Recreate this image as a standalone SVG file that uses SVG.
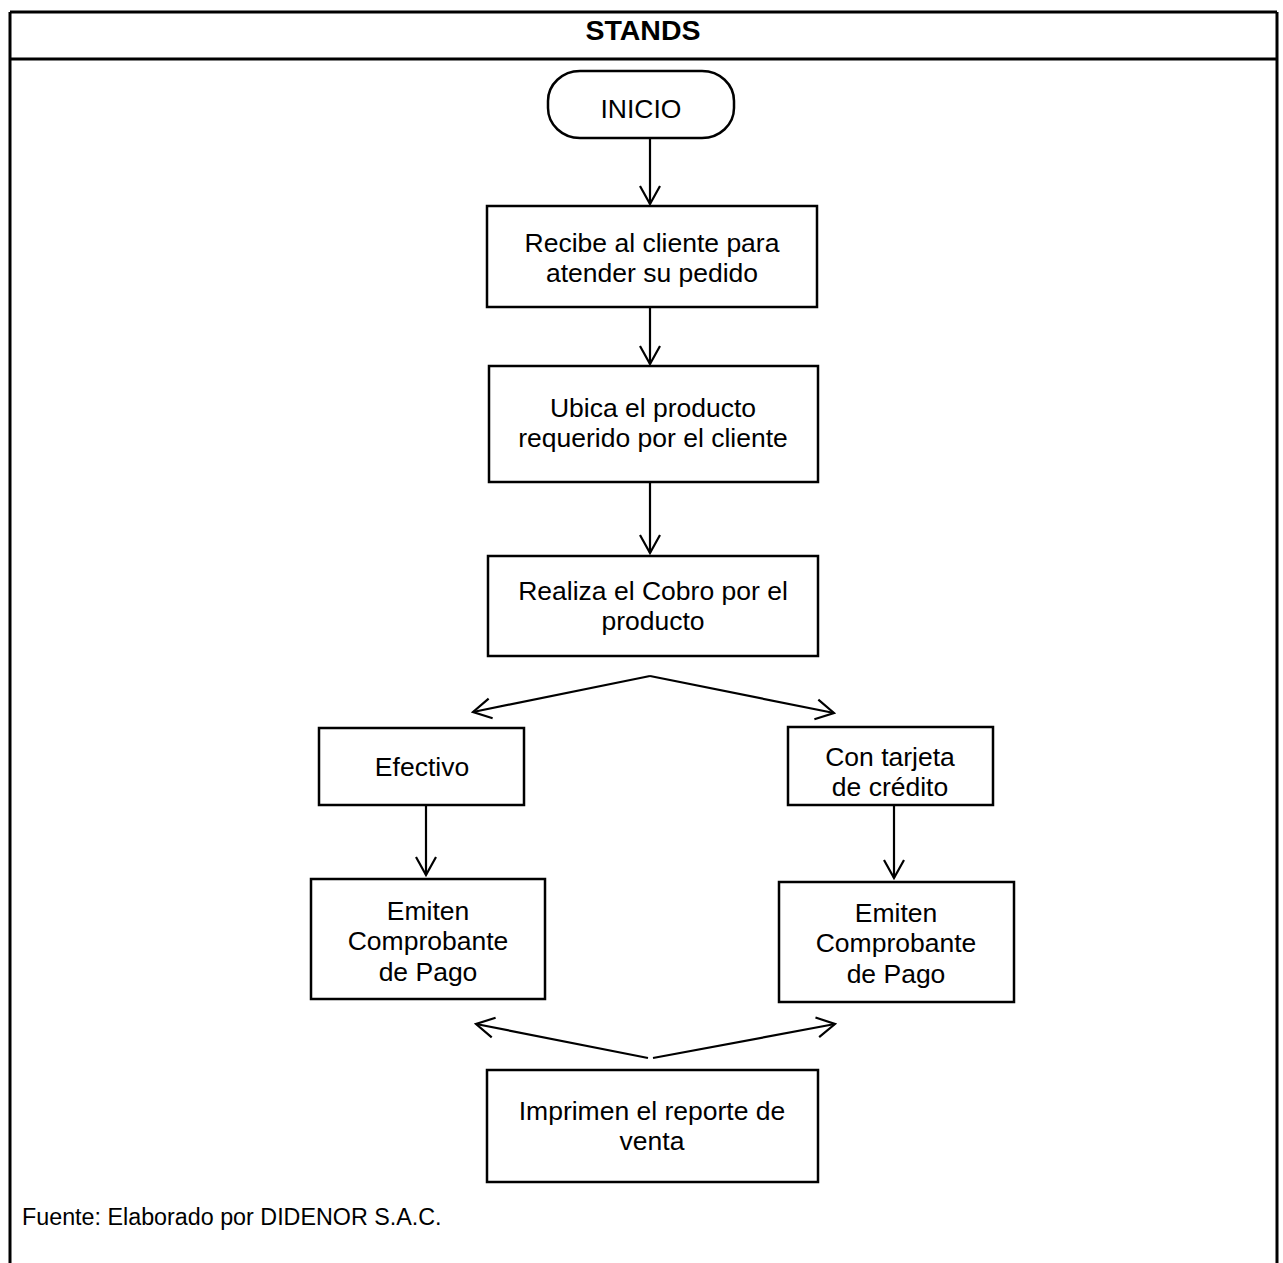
<svg xmlns="http://www.w3.org/2000/svg" width="1283" height="1263" viewBox="0 0 1283 1263">
<style>
.box{fill:#fff;stroke:#000;stroke-width:2.5}
.frame{stroke:#000;stroke-width:3;fill:none}
.t{font-family:"Liberation Sans",Arial,sans-serif;font-size:26.5px;fill:#000;text-anchor:middle}
.c{stroke:#000;stroke-width:2.2;fill:none}
</style>
<defs>
<marker id="ah" markerUnits="userSpaceOnUse" viewBox="-20 -12 22 24" refX="0" refY="0" markerWidth="22" markerHeight="24" orient="auto">
<path d="M-18,-10 L0,0 L-18,10" fill="none" stroke="#000" stroke-width="2.2"/>
</marker>
</defs>
<rect width="1283" height="1263" fill="#fff"/>
<g id="frame">
<line class="frame" x1="10" y1="12" x2="1277" y2="12"/>
<line class="frame" x1="10" y1="59" x2="1277" y2="59"/>
<line class="frame" x1="10" y1="12" x2="10" y2="1263"/>
<line class="frame" x1="1277" y1="12" x2="1277" y2="1263"/>
<text class="t" x="643" y="40" font-weight="bold" style="font-size:28.5px">STANDS</text>
</g>
<g id="connectors">
<line class="c" x1="650" y1="138" x2="650" y2="204" marker-end="url(#ah)"/>
<line class="c" x1="650" y1="307" x2="650" y2="364" marker-end="url(#ah)"/>
<line class="c" x1="650" y1="482" x2="650" y2="553" marker-end="url(#ah)"/>
<line class="c" x1="650" y1="676" x2="473" y2="712" marker-end="url(#ah)"/>
<line class="c" x1="650" y1="676" x2="834" y2="713" marker-end="url(#ah)"/>
<line class="c" x1="426" y1="805" x2="426" y2="875" marker-end="url(#ah)"/>
<line class="c" x1="894" y1="805" x2="894" y2="878" marker-end="url(#ah)"/>
<line class="c" x1="648" y1="1058" x2="476" y2="1024" marker-end="url(#ah)"/>
<line class="c" x1="653" y1="1058" x2="835" y2="1024" marker-end="url(#ah)"/>
</g>
<g id="inicio">
<rect class="box" x="548" y="71" width="186" height="67" rx="32" ry="30"/>
<text class="t" x="641" y="117.5">INICIO</text>
</g>
<g id="recibe">
<rect class="box" x="487" y="206" width="330" height="101"/>
<text class="t" x="652" y="251.5">Recibe al cliente para</text>
<text class="t" x="652" y="281.5">atender su pedido</text>
</g>
<g id="ubica">
<rect class="box" x="489" y="366" width="329" height="116"/>
<text class="t" x="653" y="416.5">Ubica el producto</text>
<text class="t" x="653" y="446.5">requerido por el cliente</text>
</g>
<g id="cobro">
<rect class="box" x="488" y="556" width="330" height="100"/>
<text class="t" x="653" y="599.5">Realiza el Cobro por el</text>
<text class="t" x="653" y="629.5">producto</text>
</g>
<g id="efectivo">
<rect class="box" x="319" y="728" width="205" height="77"/>
<text class="t" x="422" y="775.5">Efectivo</text>
</g>
<g id="tarjeta">
<rect class="box" x="788" y="727" width="205" height="78"/>
<text class="t" x="890" y="765.5">Con tarjeta</text>
<text class="t" x="890" y="795.5">de crédito</text>
</g>
<g id="emiten1">
<rect class="box" x="311" y="879" width="234" height="120"/>
<text class="t" x="428" y="919.5">Emiten</text>
<text class="t" x="428" y="950">Comprobante</text>
<text class="t" x="428" y="980.5">de Pago</text>
</g>
<g id="emiten2">
<rect class="box" x="779" y="882" width="235" height="120"/>
<text class="t" x="896" y="921.5">Emiten</text>
<text class="t" x="896" y="952">Comprobante</text>
<text class="t" x="896" y="982.5">de Pago</text>
</g>
<g id="imprimen">
<rect class="box" x="487" y="1070" width="331" height="112"/>
<text class="t" x="652" y="1119.5">Imprimen el reporte de</text>
<text class="t" x="652" y="1149.5">venta</text>
</g>
<text class="t" x="22" y="1224.5" style="text-anchor:start;font-size:23.3px">Fuente: Elaborado por DIDENOR S.A.C.</text>
</svg>
